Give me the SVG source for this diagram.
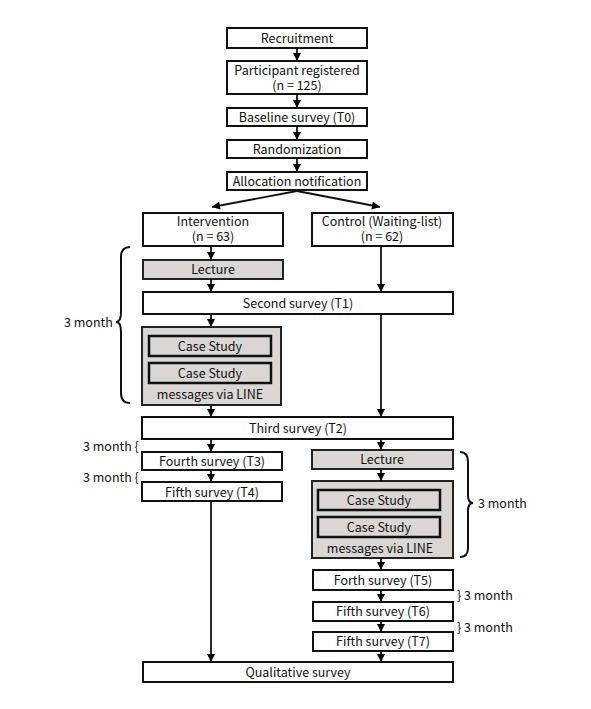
<svg xmlns="http://www.w3.org/2000/svg" width="591" height="709" viewBox="0 0 591 709">
<defs>
<marker id="ah" markerUnits="userSpaceOnUse" markerWidth="10" markerHeight="10" viewBox="0 0 10 10" refX="9" refY="5" orient="auto">
<path d="M1,1 L9,5 L1,9 Z" fill="#000"/>
</marker>
</defs>
<style>
text{font-family:"Noto Sans CJK JP","Noto Sans",sans-serif;font-size:12.5px;fill:#111}
.c{text-anchor:middle}
.b{fill:#fff;stroke:#111;stroke-width:2}
.g{fill:#d9d6d3;stroke:#222;stroke-width:2}
.gi{fill:#d9d6d3;stroke:#111;stroke-width:2.5}
.ar{stroke:#111;stroke-width:1.8;fill:none;marker-end:url(#ah)}
.br{stroke:#111;stroke-width:2;fill:none}
</style>
<rect width="591" height="709" fill="#fff"/>
<g id="recruitment"><rect class="b" x="227" y="28" width="140" height="20"/><text class="c" x="297" y="43">Recruitment</text></g>
<g id="registered"><rect class="b" x="227" y="61" width="140" height="33"/><text class="c" x="297" y="75">Participant registered</text><text class="c" x="297" y="90">(n = 125)</text></g>
<g id="baseline"><rect class="b" x="227" y="108" width="140" height="18"/><text class="c" x="297" y="122">Baseline survey (T0)</text></g>
<g id="randomization"><rect class="b" x="227" y="140" width="140" height="18"/><text class="c" x="297" y="154">Randomization</text></g>
<g id="allocation"><rect class="b" x="227" y="172" width="140" height="18"/><text class="c" x="297" y="186">Allocation notification</text></g>
<g id="intervention"><rect class="b" x="143" y="213" width="140" height="33"/><text class="c" x="213" y="226">Intervention</text><text class="c" x="213" y="241">(n = 63)</text></g>
<g id="control"><rect class="b" x="312" y="213" width="141" height="33"/><text class="c" x="382" y="226">Control (Waiting-list)</text><text class="c" x="382" y="241">(n = 62)</text></g>
<g id="lecture1"><rect class="g" x="143" y="260" width="140" height="19"/><text class="c" x="213" y="274">Lecture</text></g>
<g id="second"><rect class="b" x="143" y="292" width="310" height="22"/><text class="c" x="298" y="308">Second survey (T1)</text></g>
<g id="cases1"><rect class="g" x="142" y="327" width="139" height="78"/>
<rect class="gi" x="149" y="336" width="122" height="20"/><text class="c" x="210" y="351">Case Study</text>
<rect class="gi" x="149" y="363" width="122" height="20"/><text class="c" x="210" y="378">Case Study</text>
<text class="c" x="210" y="399">messages via LINE</text></g>
<g id="third"><rect class="b" x="142" y="417" width="311" height="22"/><text class="c" x="298" y="433">Third survey (T2)</text></g>
<g id="fourth"><rect class="b" x="142" y="452" width="140" height="18"/><text class="c" x="212" y="466">Fourth survey (T3)</text></g>
<g id="fifth4"><rect class="b" x="142" y="482" width="140" height="19"/><text class="c" x="212" y="497">Fifth survey (T4)</text></g>
<g id="lecture2"><rect class="g" x="312" y="450" width="141" height="19"/><text class="c" x="382" y="464">Lecture</text></g>
<g id="cases2"><rect class="g" x="312" y="481" width="141" height="77"/>
<rect class="gi" x="318" y="490" width="122" height="20"/><text class="c" x="379" y="505">Case Study</text>
<rect class="gi" x="318" y="517" width="122" height="20"/><text class="c" x="379" y="532">Case Study</text>
<text class="c" x="380" y="553">messages via LINE</text></g>
<g id="forth5"><rect class="b" x="313" y="570" width="140" height="20"/><text class="c" x="383" y="585">Forth survey (T5)</text></g>
<g id="fifth6"><rect class="b" x="313" y="602" width="140" height="19"/><text class="c" x="383" y="616">Fifth survey (T6)</text></g>
<g id="fifth7"><rect class="b" x="313" y="632" width="140" height="19"/><text class="c" x="383" y="646">Fifth survey (T7)</text></g>
<g id="qualitative"><rect class="b" x="143" y="662" width="310" height="20"/><text class="c" x="298" y="677">Qualitative survey</text></g>
<g id="labels">
<path class="br" d="M130,247 Q121,247 121,257 L121,312 Q121,322 116,322 Q121,322 121,332 L121,393 Q121,403 130,403"/>
<text x="64" y="327">3 month</text>
<text x="83" y="451">3 month {</text>
<text x="83" y="482">3 month {</text>
<path class="br" d="M460,452 Q468,452 468,462 L468,495 Q468,503 473,503 Q468,503 468,511 L468,548 Q468,557 460,557"/>
<text x="478" y="508">3 month</text>
<text x="457" y="600">} 3 month</text>
<text x="457" y="632">} 3 month</text>
</g>
<g id="connectors">
<line class="ar" x1="297" y1="48" x2="297" y2="61"/>
<line class="ar" x1="297" y1="94" x2="297" y2="108"/>
<line class="ar" x1="297" y1="126" x2="297" y2="140"/>
<line class="ar" x1="297" y1="158" x2="297" y2="172"/>
<line class="ar" x1="297" y1="191" x2="212" y2="207"/>
<line class="ar" x1="297" y1="191" x2="380" y2="207"/>
<line class="ar" x1="211" y1="246" x2="211" y2="260"/>
<line class="ar" x1="211" y1="279" x2="211" y2="292"/>
<line class="ar" x1="381" y1="246" x2="381" y2="292"/>
<line class="ar" x1="211" y1="314" x2="211" y2="327"/>
<line class="ar" x1="381" y1="314" x2="381" y2="417"/>
<line class="ar" x1="211" y1="405" x2="211" y2="417"/>
<line class="ar" x1="211" y1="439" x2="211" y2="452"/>
<line class="ar" x1="381" y1="439" x2="381" y2="450"/>
<line class="ar" x1="211" y1="470" x2="211" y2="482"/>
<line class="ar" x1="211" y1="501" x2="211" y2="662"/>
<line class="ar" x1="381" y1="469" x2="381" y2="481"/>
<line class="ar" x1="381" y1="558" x2="381" y2="570"/>
<line class="ar" x1="381" y1="590" x2="381" y2="602"/>
<line class="ar" x1="381" y1="621" x2="381" y2="632"/>
<line class="ar" x1="381" y1="651" x2="381" y2="662"/>
</g>
</svg>
